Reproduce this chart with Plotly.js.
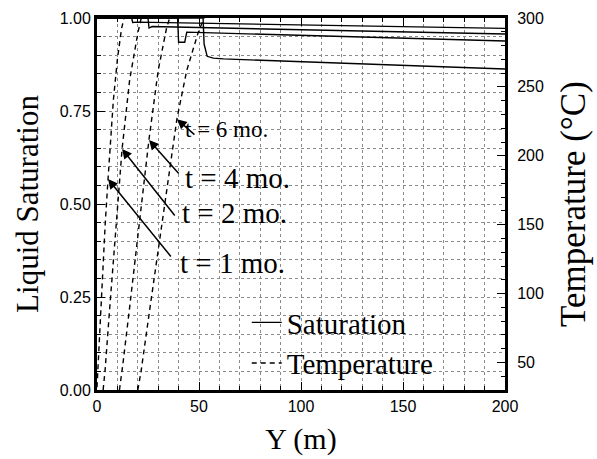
<!DOCTYPE html>
<html>
<head>
<meta charset="utf-8">
<script src="https://cdn.plot.ly/plotly-3.0.1.min.js"></script>
<style>html,body{margin:0;padding:0;background:#fff;}#chart{width:597px;height:459px;}</style>
</head>
<body>
<div id="chart"></div>
<script>
// Liquid saturation profiles (distance Y in m)
const sat1Y = [0, 17, 17.5, 20, 200];
const sat1S = [1.0, 1.0, 0.988, 0.989, 0.972];
const sat2Y = [0, 25, 25.5, 27, 200];
const sat2S = [1.0, 1.0, 0.973, 0.977, 0.957];
const sat4Y = [0, 39.5, 40, 43, 44, 200];
const sat4S = [1.0, 1.0, 0.935, 0.935, 0.962, 0.938];
const sat6Y = [0, 52, 52.5, 54, 57, 62, 200];
const sat6S = [1.0, 1.0, 0.93, 0.897, 0.892, 0.89, 0.863];

// Temperature profiles (deg C)
const tmp1Y = [0, 2, 4, 5.4, 8, 10, 12, 14];
const tmp1T = [32, 95, 150, 183, 240, 270, 292, 305];
const tmp2Y = [3, 4, 6, 8, 12.3, 16, 20, 22];
const tmp2T = [30, 45, 85, 122, 205, 255, 289, 302];
const tmp4Y = [11, 12.7, 16, 20, 25.5, 30, 34, 36];
const tmp4T = [30, 49, 90, 140, 212, 262, 292, 302];
const tmp6Y = [20, 21.6, 26, 32, 39.2, 44, 49.5, 53];
const tmp6T = [30, 43.5, 90, 152, 227, 262, 289, 302];

// Labels
const timeLabels = ['t = 1 mo.', 't = 2 mo.', 't = 4 mo.', 't = 6 mo.'];
const xTickVals = [0, 50, 100, 150, 200];
const yTickVals = [0, 0.25, 0.5, 0.75, 1.0];
const y2TickVals = [50, 100, 150, 200, 250, 300];

const serif = 'Liberation Serif, Times New Roman, serif';
const sans = 'Liberation Sans, Arial, Helvetica, sans-serif';

const solid = {color: 'black', width: 1.4};
const dashed = {color: 'black', width: 1.4, dash: '5px,4px'};

const traces = [
  {x: sat1Y, y: sat1S, mode: 'lines', line: solid, name: 'Saturation', showlegend: true, legendrank: 1},
  {x: sat2Y, y: sat2S, mode: 'lines', line: solid, showlegend: false},
  {x: sat4Y, y: sat4S, mode: 'lines', line: solid, showlegend: false},
  {x: sat6Y, y: sat6S, mode: 'lines', line: solid, showlegend: false},
  {x: tmp1Y, y: tmp1T, yaxis: 'y2', mode: 'lines', line: dashed, name: 'Temperature', showlegend: true, legendrank: 2},
  {x: tmp2Y, y: tmp2T, yaxis: 'y2', mode: 'lines', line: dashed, showlegend: false},
  {x: tmp4Y, y: tmp4T, yaxis: 'y2', mode: 'lines', line: dashed, showlegend: false},
  {x: tmp6Y, y: tmp6T, yaxis: 'y2', mode: 'lines', line: dashed, showlegend: false}
];

// arrow tips / tails (data coords, x & saturation axis)
const arrowTipX = [5.4, 12.3, 25.5, 39.2];
const arrowTipY = [0.567, 0.648, 0.672, 0.728];
const arrowTailX = [36.8, 38.7, 40.7, 48.5];
const arrowTailY = [0.355, 0.465, 0.578, 0.683];
const labelX = [39.7, 40.7, 42.2, 42.2];
const labelY = [0.341, 0.476, 0.570, 0.699];
const labelSize = [29, 29, 29, 23];

const annotations = [];
for (let i = 0; i < 4; i++) {
  annotations.push({
    x: arrowTipX[i], y: arrowTipY[i], xref: 'x', yref: 'y',
    ax: arrowTailX[i], ay: arrowTailY[i], axref: 'x', ayref: 'y',
    text: '', showarrow: true, arrowhead: 2, arrowsize: 1.3, arrowwidth: 1.5, arrowcolor: 'black'
  });
  annotations.push({
    x: labelX[i], y: labelY[i], xref: 'x', yref: 'y', xanchor: 'left', yanchor: 'middle',
    text: timeLabels[i], showarrow: false,
    font: {family: serif, size: labelSize[i], color: 'black'}
  });
}

const gridStyle = {showgrid: true, gridcolor: '#8a8a8a', griddash: 'dot', gridwidth: 1};

const layout = {
  width: 597, height: 459,
  margin: {l: 97, r: 92, t: 18, b: 69},
  paper_bgcolor: 'white', plot_bgcolor: 'white',
  showlegend: true,
  legend: {
    x: 0.367, y: 0.25, xanchor: 'left', yanchor: 'top',
    bgcolor: 'rgba(0,0,0,0)', borderwidth: 0,
    font: {family: serif, size: 29, color: 'black'},
    tracegroupgap: 0, itemwidth: 30
  },
  xaxis: {
    range: [0, 200], tickvals: xTickVals, ticktext: xTickVals.map(String),
    ticks: 'inside', ticklen: 8, tickwidth: 1, tickcolor: 'black',
    showline: true, linewidth: 3, linecolor: 'black', mirror: 'ticks',
    zeroline: false, ...gridStyle,
    minor: {dtick: 10, ticks: 'inside', ticklen: 4, tickcolor: 'black', ...gridStyle},
    tickfont: {family: sans, size: 16, color: 'black'},
    title: {text: 'Y (m)', font: {family: serif, size: 30, color: 'black'}, standoff: 14}
  },
  yaxis: {
    range: [0, 1], tickvals: yTickVals, tickformat: '.2f',
    ticks: 'inside', ticklen: 8, tickwidth: 1, tickcolor: 'black',
    showline: true, linewidth: 3, linecolor: 'black', mirror: false,
    zeroline: false, ...gridStyle,
    minor: {dtick: 0.05, ticks: 'inside', ticklen: 4, tickcolor: 'black', ...gridStyle},
    tickfont: {family: sans, size: 16, color: 'black'},
    title: {text: 'Liquid Saturation', font: {family: serif, size: 31, color: 'black'}, standoff: 12}
  },
  yaxis2: {
    range: [30, 300], overlaying: 'y', side: 'right', tickvals: y2TickVals,
    ticks: 'inside', ticklen: 8, tickwidth: 1, tickcolor: 'black',
    showline: true, linewidth: 3, linecolor: 'black',
    zeroline: false, showgrid: false, ticklabelstandoff: 6,
    minor: {dtick: 10, ticks: 'inside', ticklen: 4, tickcolor: 'black', showgrid: false},
    tickfont: {family: sans, size: 16, color: 'black'},
    title: {text: 'Temperature (°C)', font: {family: serif, size: 35, color: 'black'}, standoff: 18}
  },
  annotations: annotations
};

Plotly.newPlot('chart', traces, layout, {staticPlot: true, displayModeBar: false});
</script>
</body>
</html>
